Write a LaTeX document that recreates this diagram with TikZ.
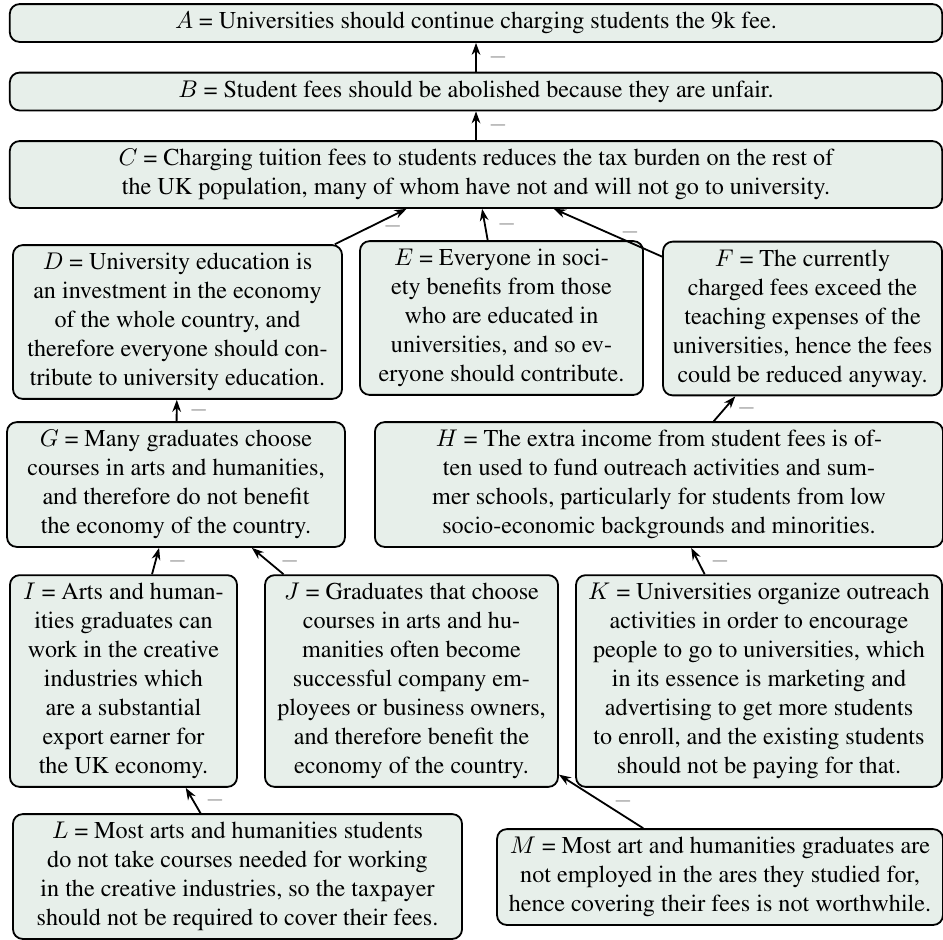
\documentclass[tikz,border=0pt]{standalone}
\usepackage[T1]{fontenc}
\usepackage{times}
\usetikzlibrary{arrows.meta}
\definecolor{argfill}{RGB}{231,239,234}

\begin{document}
\begin{tikzpicture}[x=0.414pt,y=-0.414pt,
    arg/.style={draw, fill=argfill, rounded corners=4pt, align=center, line width=0.75pt, inner sep=3.33pt},
    attack/.style={-{Stealth[length=5pt,width=3.6pt]}, line width=0.75pt},
    neg/.style={midway, right, xshift=1.5pt, text=gray}]
    \useasboundingbox (0,0) rectangle (943,939);
    \node[arg, minimum width=386pt] (A) at (476,23) {$A$ = Universities should continue charging students the 9k fee.};
    \node[arg, minimum width=386pt] (B) at (476,91.5) {$B$ = Student fees should be abolished because they are unfair.};
    \node[arg, minimum width=386pt] (C) at (476,174.5) {$C$ = Charging tuition fees to students reduces the tax burden on the rest of\\ the UK population, many of whom have not and will not go to university.};
    \node[arg, minimum width=136.2pt] (D) at (177.5,322) {$D$ = University education is\\ an investment in the economy\\ of the whole country, and\\ therefore everyone should con-\\ tribute to university education.};
    \node[arg, minimum width=117.2pt] (E) at (501.5,318) {$E$ = Everyone in soci-\\ ety benefits from those\\ who are educated in\\ universities, and so ev-\\ eryone should contribute.};
    \node[arg, minimum width=115.5pt] (F) at (802.5,318.5) {$F$ = The currently\\ charged fees exceed the\\ teaching expenses of the\\ universities, hence the fees\\ could be reduced anyway.};
    \node[arg, minimum width=139.9pt] (G) at (176,484.5) {$G$ = Many graduates choose\\ courses in arts and humanities,\\ and therefore do not benefit\\ the economy of the country.};
    \node[arg, minimum width=235.2pt] (H) at (659,484.5) {$H$ = The extra income from student fees is of-\\ ten used to fund outreach activities and sum-\\ mer schools, particularly for students from low\\ socio-economic backgrounds and minorities.};
    \node[arg, minimum width=94pt] (I) at (123.5,681) {$I$ = Arts and human-\\ ities graduates can\\ work in the creative\\ industries which\\ are a substantial\\ export earner for\\ the UK economy.};
    \node[arg, minimum width=121.3pt] (J) at (411.5,681) {$J$ = Graduates that choose\\ courses in arts and hu-\\ manities often become\\ successful company em-\\ ployees or business owners,\\ and therefore benefit the\\ economy of the country.};
    \node[arg, minimum width=151.5pt] (K) at (759,681) {$K$ = Universities organize outreach\\ activities in order to encourage\\ people to go to universities, which\\ in its essence is marketing and\\ advertising to get more students\\ to enroll, and the existing students\\ should not be paying for that.};
    \node[arg, minimum width=185.9pt] (L) at (237.5,876.5) {$L$ = Most arts and humanities students\\ do not take courses needed for working\\ in the creative industries, so the taxpayer\\ should not be required to cover their fees.};
    \node[arg, minimum width=184.6pt] (M) at (720,877) {$M$ = Most art and humanities graduates are\\ not employed in the ares they studied for,\\ hence covering their fees is not worthwhile.};
    \draw[attack] (B) -- (A) node[neg]{$-$};
    \draw[attack] (C) -- (B) node[neg]{$-$};
    \draw[attack] (D) -- (C) node[neg]{$-$};
    \draw[attack] (E) -- (C) node[neg]{$-$};
    \draw[attack] (F) -- (C) node[neg]{$-$};
    \draw[attack] (G) -- (D) node[neg]{$-$};
    \draw[attack] (H) -- (F) node[neg]{$-$};
    \draw[attack] (I) -- (G) node[neg]{$-$};
    \draw[attack] (J) -- (G) node[neg]{$-$};
    \draw[attack] (K) -- (H) node[neg]{$-$};
    \draw[attack] (L) -- (I) node[neg]{$-$};
    \draw[attack] (M) -- (J) node[neg]{$-$};
\end{tikzpicture}
\end{document}
